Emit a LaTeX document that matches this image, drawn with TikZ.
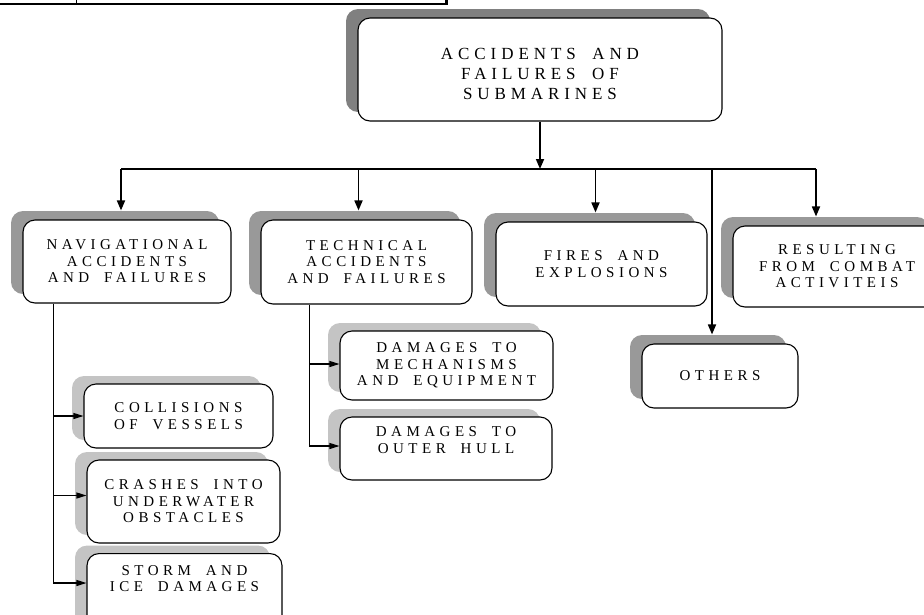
\documentclass[tikz,border=0pt]{standalone}
\usepackage{fontspec}
\setmainfont{Liberation Serif}
\newfontfamily\headfont[LetterSpace=29,WordSpace=1.8]{Liberation Serif}
\newfontfamily\boxfont[LetterSpace=30,WordSpace=1.8]{Liberation Serif}
\usetikzlibrary{arrows.meta,shadows}
\definecolor{shadowdark}{HTML}{808080}
\definecolor{shadowmid}{HTML}{999999}
\definecolor{shadowlight}{HTML}{C4C4C4}
\begin{document}
\begin{tikzpicture}[x=1pt,y=-1pt,
    box/.style={draw,line width=1.1pt,rounded corners=12pt,fill=white,align=center,inner sep=0pt,
      font=\boxfont\fontsize{15}{16.5}\selectfont},
    topshade/.style={drop shadow={shadow xshift=-12pt,shadow yshift=9pt,fill=shadowdark,opacity=1}},
    midshade/.style={drop shadow={shadow xshift=-12pt,shadow yshift=9pt,fill=shadowmid,opacity=1}},
    lowshade/.style={drop shadow={shadow xshift=-12pt,shadow yshift=8pt,fill=shadowlight,opacity=1}},
    bigarrow/.style={line width=1.7pt,-{Triangle[length=10pt,width=8pt]}},
    smallarrow/.style={line width=1.1pt,-{Triangle[length=10pt,width=6pt]}}]
  \useasboundingbox (0,0) rectangle (924,614);
  \draw[line width=2pt] (0,4) -- (447,4);
  \draw[line width=3pt] (446,-2) -- (446,5);
  \draw[line width=1pt] (76,0) -- (76,4);
  \draw
    (540,69.5) node[box,topshade,minimum width=364pt,minimum height=103pt,text height=60pt,
      font=\headfont\fontsize{17}{20}\selectfont] (subm){ACCIDENTS AND\\FAILURES OF\\SUBMARINES}
    (127,261.5) node[box,midshade,minimum width=208pt,minimum height=83pt] (nav){NAVIGATIONAL\\ACCIDENTS\\AND FAILURES}
    (366.5,262) node[box,midshade,minimum width=211pt,minimum height=84pt] (tech){TECHNICAL\\ACCIDENTS\\AND FAILURES}
    (601.5,264) node[box,midshade,minimum width=211pt,minimum height=84pt] (fire){FIRES AND\\EXPLOSIONS}
    (837,266.5) node[box,midshade,minimum width=208pt,minimum height=81pt] (combat){RESULTING\\FROM COMBAT\\ACTIVITEIS}
    (720,376) node[box,midshade,minimum width=156pt,minimum height=64pt] (other){OTHERS}
    (178.5,416) node[box,lowshade,minimum width=189pt,minimum height=64pt] (coll){COLLISIONS\\OF VESSELS}
    (183.5,501.5) node[box,lowshade,minimum width=193pt,minimum height=83pt] (crash){CRASHES INTO\\UNDERWATER\\OBSTACLES}
    (184.5,553) node[box,lowshade,anchor=north,minimum width=195pt,minimum height=90pt,text depth=40pt] (storm){STORM AND\\ICE DAMAGES}
    (446.5,365.5) node[box,lowshade,minimum width=213pt,minimum height=69pt] (mech){DAMAGES TO\\MECHANISMS\\AND EQUIPMENT}
    (446,448.5) node[box,lowshade,minimum width=212pt,minimum height=63pt,text depth=17pt] (hull){DAMAGES TO\\OUTER HULL};
  \coordinate (bus) at (0,169);
  \coordinate (navdrop) at ([xshift=31pt]nav.south west);
  \coordinate (techdrop) at ([xshift=49pt]tech.south west);
  \coordinate (crashin) at ([yshift=6pt]crash.west);
  \coordinate (stormin) at ([yshift=-30pt]storm.north west);
  \coordinate (mechin) at ([yshift=1.5pt]mech.west);
  \coordinate (hullin) at ([yshift=2.5pt]hull.west);
  \begin{scope}[bigarrow]
    \draw (subm.south) to (subm.south |- bus);
    \draw ([xshift=-6pt]nav.north |- bus) to ([xshift=-6pt,yshift=9pt]nav.north);
    \draw ([xshift=-8pt]tech.north |- bus) to ([xshift=-8pt,yshift=9pt]tech.north);
    \draw ([xshift=-6pt]fire.north |- bus) to ([xshift=-6pt,yshift=9pt]fire.north);
    \draw ([xshift=-8pt]other.north |- bus) to ([xshift=-8pt,yshift=9pt]other.north);
    \draw ([xshift=-21pt]combat.north |- bus) to ([xshift=-21pt,yshift=9pt]combat.north);
  \end{scope}
  \draw[line width=1.2pt] ([xshift=-6pt]nav.north |- bus) to ([xshift=-21pt]combat.north |- bus);
  \begin{scope}[smallarrow]
    \draw[-] (navdrop) to (navdrop |- stormin);
    \draw (navdrop |- coll.west) to (coll.west);
    \draw (navdrop |- crashin) to (crashin);
    \draw (navdrop |- stormin) to (stormin);
    \draw[-] (techdrop) to (techdrop |- hullin);
    \draw (techdrop |- mechin) to (mechin);
    \draw (techdrop |- hullin) to (hullin);
  \end{scope}
\end{tikzpicture}
\end{document}
